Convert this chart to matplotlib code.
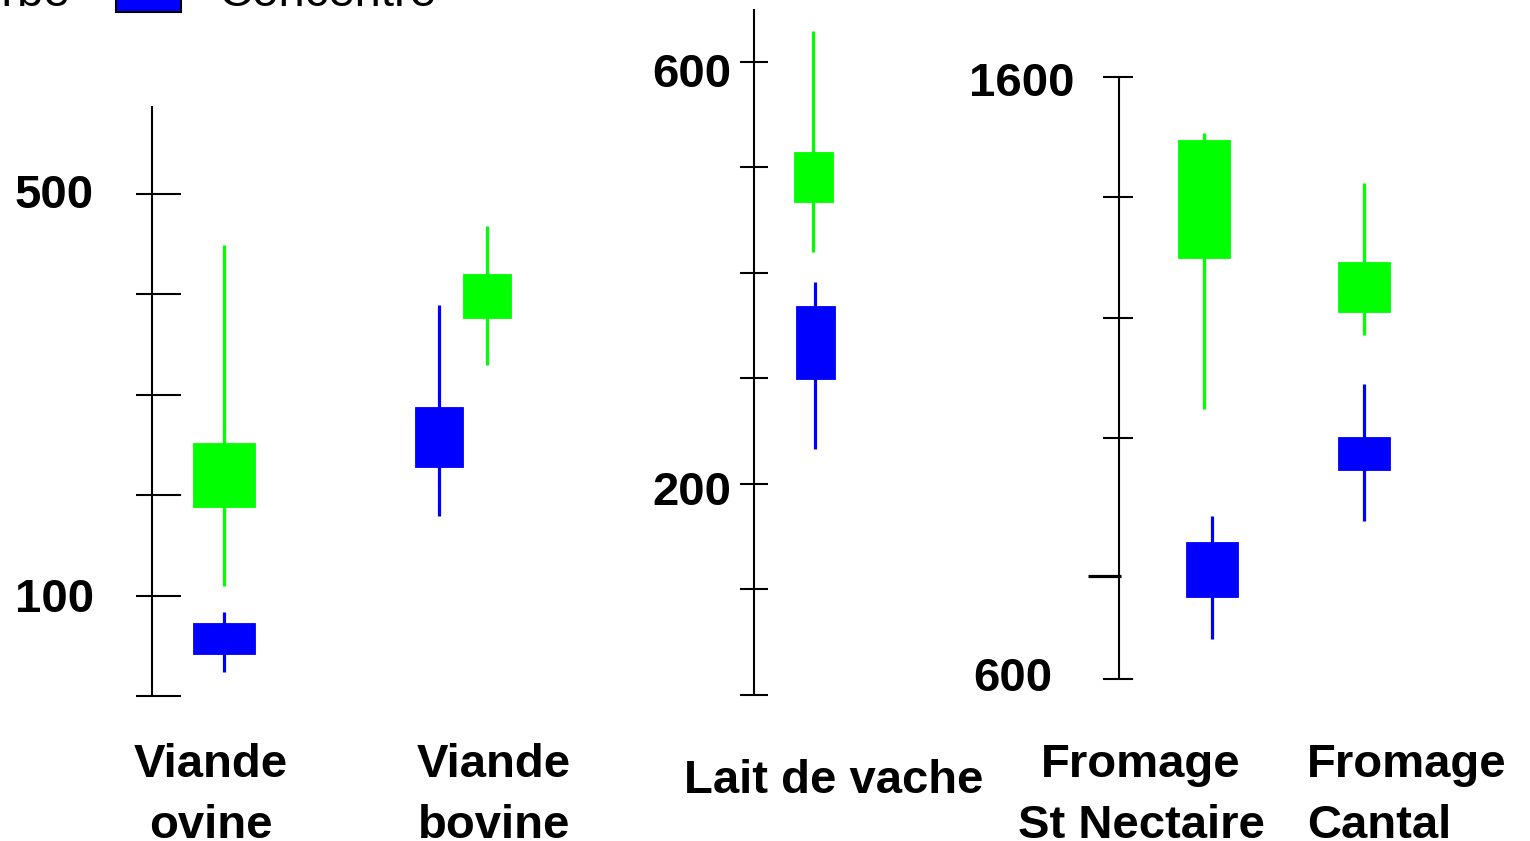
import numpy as np
import matplotlib.pyplot as plt
from matplotlib.patches import Rectangle

plt.rcParams['font.family'] = ['Liberation Sans', 'DejaVu Sans']

# ---------------- data (min, Q1, Q3, max) ----------------
products = ["Viande\novine", "Viande\nbovine", "Lait de vache",
            "Fromage\nSt Nectaire", "Fromage\nCantal"]

herbe_min = [110, 330, 420, 1049, 1172]
herbe_q1 = [188, 376, 467, 1300, 1210]
herbe_q3 = [252, 420, 514, 1496, 1293]
herbe_max = [449, 468, 629, 1507, 1424]

conc_min = [24, 179, 233, 667, 863]
conc_q1 = [42, 228, 299, 737, 947]
conc_q3 = [73, 288, 368, 828, 1003]
conc_max = [84, 389, 391, 871, 1091]

panel_ticks = [np.arange(0, 501, 100), np.arange(0, 601, 100), np.arange(600, 1601, 200)]
panel_labels = [[500, 100], [600, 200], [1600, 600]]
# the hand-drawn "800" tick of the cheese panel sits a bit low
odd_tick = 772

HERBE = '#00ff00'
CONC = '#0000ff'

# ---------------- layout (pixels on a 1530x841 canvas) ----------------
W, H = 1530, 841
PT = 72 / 100

def fx(px):
    return px / W

def fy(py):
    return 1 - py / H

# one entry per panel: products shown, spine x, right edge, top/bottom px, ylim,
# pixel of first category, pixels per category, tick lengths left/right,
# label offsets (right edge from spine, centre below tick)
panels = [
    dict(items=[0, 1], spine=152, right=600, top=106, bottom=696, ylim=(0, 587.6),
         c0=224, step=239, tl=16, tr=29,
         lab=[(-58, -3), (-58, -1)]),
    dict(items=[2], spine=754, right=960, top=9, bottom=694.6, ylim=(0, 650),
         c0=814, step=239, tl=14, tr=14,
         lab=[(-23, 8), (-23, 4)]),
    dict(items=[3, 4], spine=1119, right=1530, top=77, bottom=679.3, ylim=(600, 1600),
         c0=1208, step=156, tl=16, tr=14,
         lab=[(-44, 2), (-67, -5)]),
]
# per-product offsets of the two boxes (px) and box width (px)
herbe_off = [0, 24, -1, -4, 0]
conc_off = [0, -24, 1, 4, 0]
box_w = [62, 48, 39, 52, 52]

fig = plt.figure(figsize=(15.3, 8.41), dpi=100)

for n, p in enumerate(panels):
    ax = fig.add_axes([fx(p['spine']), fy(p['bottom']),
                       fx(p['right'] - p['spine']), (p['bottom'] - p['top']) / H])
    step = p['step']
    xs = (p['spine'] - p['c0']) / step
    ax.set_xlim(xs, (p['right'] - p['c0']) / step)
    ax.set_ylim(*p['ylim'])
    ax.axis('off')

    for k, i in enumerate(p['items']):
        for off, lo, q1, q3, hi, col in [
            (herbe_off[i], herbe_min[i], herbe_q1[i], herbe_q3[i], herbe_max[i], HERBE),
            (conc_off[i], conc_min[i], conc_q1[i], conc_q3[i], conc_max[i], CONC),
        ]:
            x = k + off / step
            ax.vlines(x, lo, hi, color=col, lw=2.3, zorder=1)
            ax.bar(x, q3 - q1, bottom=q1, width=box_w[i] / step,
                   color=col, edgecolor=col, lw=0.6, zorder=2)

    # hand-drawn style axis: spine plus ticks crossing it
    ax.vlines(xs, p['ylim'][0], p['ylim'][1], color='black', lw=1.5, clip_on=False)
    ticks = panel_ticks[n]
    if n == 2:
        ticks = ticks[ticks != 800]
        ax.hlines(odd_tick, xs - 31 / step, xs + 2 / step, color='black', lw=2.3,
                  clip_on=False)
    ax.hlines(ticks, xs - p['tl'] / step, xs + p['tr'] / step, color='black',
              lw=1.5, clip_on=False)

    for val, (dx, dy) in zip(panel_labels[n], p['lab']):
        ax.annotate(str(val), xy=(xs, val), xytext=(dx * PT, -(dy + 17) * PT),
                    textcoords='offset points', ha='right', va='baseline',
                    fontsize=34, fontweight='bold', annotation_clip=False)

# category names under each panel
name_pos = [(211, 'center'), (494, 'center'), (834, 'center'),
            (1141, 'center'), (1307, 'left')]
for name, (x, ha) in zip(products, name_pos):
    lines = name.split('\n')
    base = 793 if len(lines) == 1 else 777
    for j, line in enumerate(lines):
        fig.text(fx(x), fy(base + 61 * j), line, ha=ha, va='baseline',
                 fontsize=34, fontweight='bold')

# legend, mostly above the visible canvas
fig.text(fx(70), fy(6), 'Herbe', ha='right', va='baseline', fontsize=34)
fig.patches.append(Rectangle((fx(116), fy(12)), fx(65), 45 / H,
                             transform=fig.transFigure, facecolor=CONC,
                             edgecolor='black', lw=1.5, clip_on=False))
fig.text(fx(219), fy(6), 'Concentré', ha='left', va='baseline', fontsize=34)

fig.savefig('out.png', dpi=100)
